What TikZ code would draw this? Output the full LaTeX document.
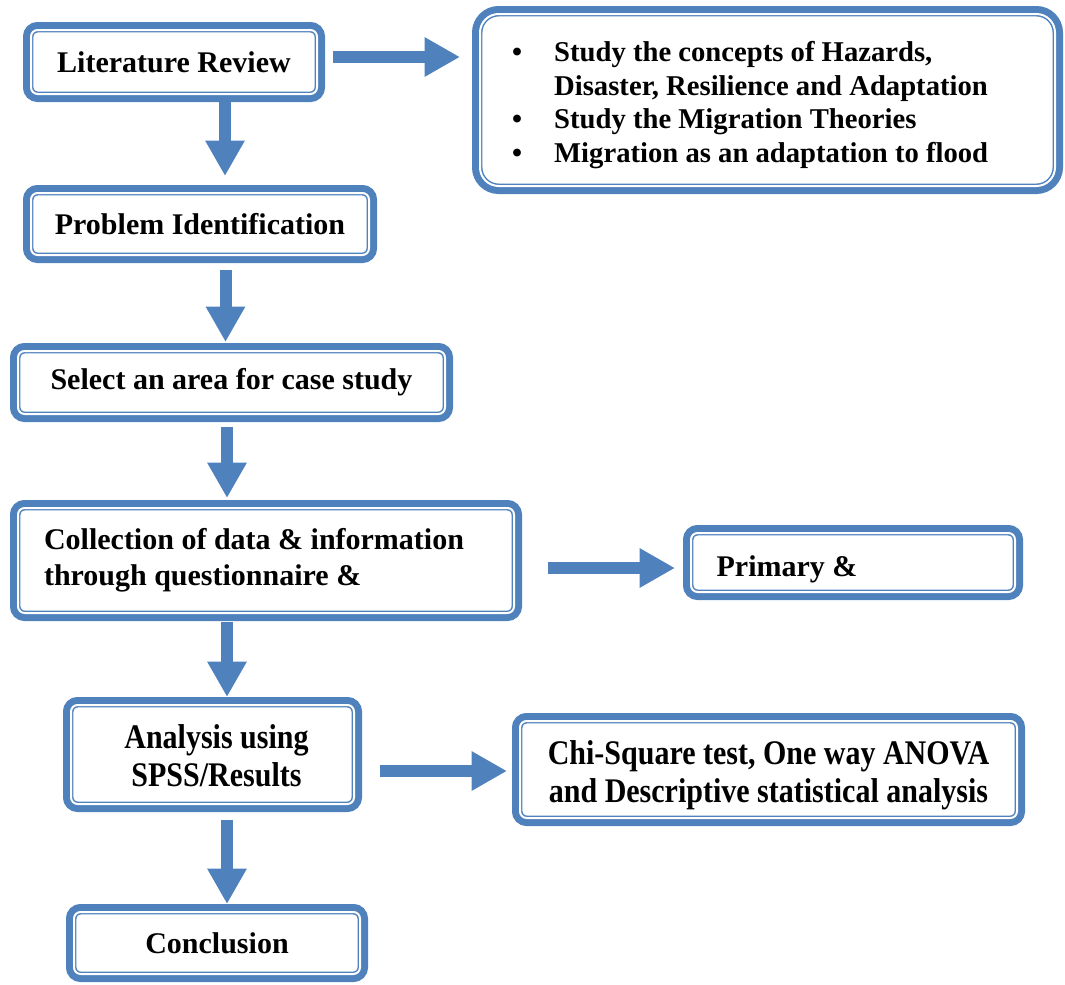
\documentclass[tikz,border=0pt]{standalone}
\usepackage{fontspec}
\setmainfont{Liberation Serif}
\usepackage{graphicx}
\usetikzlibrary{arrows.meta}
\definecolor{bl}{HTML}{4F81BD}
\newcommand{\lowerby}[2]{\raisebox{-#1}[\height][\depth]{#2}}
\begin{document}
\begin{tikzpicture}[x=0.75pt,y=-0.75pt,
  pbox/.style={draw=bl, line width=1.1pt, double=white, double distance=1.5pt,
    preaction={draw=bl, line width=12pt}, rounded corners=5pt, fill=white,
    inner sep=0pt, outer sep=6pt, font=\bfseries\fontsize{22.5}{25}\selectfont},
  bigarrow/.style={draw=bl, line width=9pt,
    -{Triangle[length=26.5pt,width=27.75pt]}}]
\useasboundingbox (0,0) rectangle (1065,985);

% boxes
\node[pbox, minimum width=214.5pt, minimum height=48pt] (lr) at (174,62) {Literature Review};
\node[pbox, rounded corners=14pt, minimum width=431.25pt, minimum height=129pt,
      font=\bfseries\fontsize{21.5}{25.3}\selectfont] (bul) at (767.5,100)
  {\lowerby{4pt}{\begin{tabular}{@{}l@{\hspace{24pt}}l@{\hspace{26pt}}}
   \textbullet & Study the concepts of Hazards,\\
               & Disaster, Resilience and Adaptation\\
   \textbullet & Study the Migration Theories\\
   \textbullet & Migration as an adaptation to flood
   \end{tabular}}};
\node[pbox, minimum width=253.5pt, minimum height=46.5pt] (pi) at (200,224) {Problem Identification};
\node[pbox, minimum width=320.25pt, minimum height=47.25pt] (sel) at (231.5,382.5) {Select an area for case study};
\node[pbox, minimum width=372pt, minimum height=78.75pt] (col) at (266,560.5)
  {\begin{tabular}{@{}l@{\kern18pt}}
   Collection of data \& information\\[2pt]
   through questionnaire \&
   \end{tabular}};
\node[pbox, minimum width=243pt, minimum height=44.25pt] (pri) at (853,562.5)
  {\lowerby{5pt}{Primary \&}\kern99pt};
\node[pbox, minimum width=212.25pt, minimum height=74.25pt] (ana) at (212.5,754.5)
  {\kern6pt\lowerby{4pt}{\scalebox{1}[1.15]{\begin{tabular}{@{}c@{}}Analysis using\\ SPSS/Results\end{tabular}}}};
\node[pbox, minimum width=372.75pt, minimum height=72.75pt] (chi) at (768.5,769.5)
  {\lowerby{4.5pt}{\scalebox{1}[1.15]{\begin{tabular}{@{}c@{}}Chi-Square test, One way ANOVA\\ and Descriptive statistical analysis\end{tabular}}}};
\node[pbox, minimum width=214.5pt, minimum height=46.5pt] (con) at (217,943) {Conclusion};

% arrow positions
\coordinate (x1) at (225,0);
\coordinate (x2) at (225.5,0);
\coordinate (x3) at (227,0);
\coordinate (y7) at (0,57);
\coordinate (y8) at (0,568);
\coordinate (y6) at (0,771);

% connectors
\draw[bigarrow, shorten >=6.75pt] (lr.south -| x1) -- (pi.north -| x1);
\draw[bigarrow, shorten <=5.25pt, shorten >=0.75pt] (pi.south -| x2) -- (sel.north -| x2);
\draw[bigarrow, shorten <=3.75pt, shorten >=1.5pt] (sel.south -| x3) -- (col.north -| x3);
\draw[bigarrow, shorten <=0.75pt] (col.south -| x3) -- (ana.north -| x3);
\draw[bigarrow, shorten <=6pt] (ana.south -| x3) -- (con.north -| x3);
\draw[bigarrow, shorten <=6pt, shorten >=9pt] (lr.east |- y7) -- (bul.west |- y7);
\draw[bigarrow, shorten <=19.5pt, shorten >=6pt] (col.east |- y8) -- (pri.west |- y8);
\draw[bigarrow, shorten <=13.5pt, shorten >=3.75pt] (ana.east |- y6) -- (chi.west |- y6);
\end{tikzpicture}
\end{document}
